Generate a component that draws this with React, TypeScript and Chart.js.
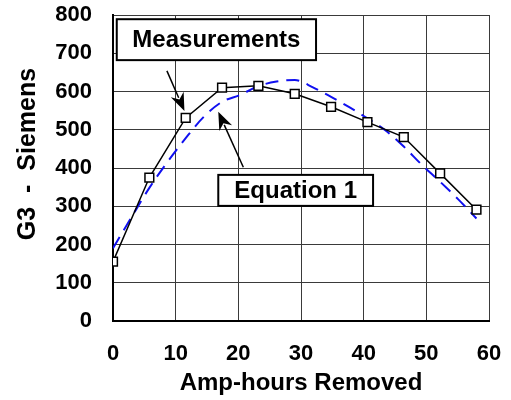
import React, { useEffect, useRef } from "react";
import { Chart, registerables } from "chart.js";

Chart.register(...registerables);

// Measured data (Amp-hours removed vs G3 in Siemens)
const measAh = [0, 5.8, 11.6, 17.4, 23.2, 29, 34.8, 40.6, 46.4, 52.2, 58];
const measG3 = [155, 375, 531, 610, 615, 594, 560, 520, 481, 386, 291];

// Equation 1 curve
const eqAh = [0, 2.9, 5.8, 8.7, 11.6, 14.5, 17.4, 20.3, 23.2, 26.1, 29, 31.9, 34.8, 37.7, 40.6, 43.5, 46.4, 49.3, 52.2, 55.1, 58];
const eqG3 = [190, 270, 348, 416, 478, 534, 573, 591, 614, 626, 630, 611, 586, 559, 530, 498, 456, 408, 364, 318, 268];

const xTitle = "Amp-hours Removed";
const yTitle = "G3  -  Siemens";
const measLabel = "Measurements";
const eqLabel = "Equation 1";

const FONT = "'Liberation Sans', Arial, sans-serif";

const annotationPlugin = {
  id: "annotations",
  afterDraw(chart: any) {
    const { ctx, scales } = chart;
    const xs = scales.x;
    const ys = scales.y;
    const px = (v: number) => xs.getPixelForValue(v);
    const py = (v: number) => ys.getPixelForValue(v);

    const arrow = (x1: number, y1: number, x2: number, y2: number) => {
      const ax = px(x1), ay = py(y1), bx = px(x2), by = py(y2);
      const ang = Math.atan2(by - ay, bx - ax);
      const len = 18, hw = 7;
      const c = Math.cos(ang), s = Math.sin(ang);
      ctx.save();
      ctx.strokeStyle = "#000";
      ctx.fillStyle = "#000";
      ctx.lineWidth = 1.5;
      ctx.beginPath();
      ctx.moveTo(ax, ay);
      ctx.lineTo(bx - c * len * 0.8, by - s * len * 0.8);
      ctx.stroke();
      ctx.beginPath();
      ctx.moveTo(bx, by);
      ctx.lineTo(bx - c * len + s * hw, by - s * len - c * hw);
      ctx.lineTo(bx - c * len * 0.7, by - s * len * 0.7);
      ctx.lineTo(bx - c * len - s * hw, by - s * len + c * hw);
      ctx.closePath();
      ctx.fill();
      ctx.restore();
    };

    const box = (text: string, x1: number, y1: number, x2: number, y2: number) => {
      const l = px(x1), r = px(x2), t = py(y1), b = py(y2);
      ctx.save();
      ctx.fillStyle = "#fff";
      ctx.fillRect(l, t, r - l, b - t);
      ctx.strokeStyle = "#000";
      ctx.lineWidth = 2;
      ctx.strokeRect(l, t, r - l, b - t);
      ctx.fillStyle = "#000";
      ctx.font = `bold 24px ${FONT}`;
      ctx.textAlign = "center";
      ctx.textBaseline = "middle";
      ctx.fillText(text, (l + r) / 2, (t + b) / 2 + 1);
      ctx.restore();
    };

    arrow(8.6, 654, 11.4, 549);
    arrow(20.8, 402, 16.8, 547);
    box(measLabel, 0.6, 789, 32.4, 682);
    box(eqLabel, 16.8, 382, 41.5, 301);

    // Y axis title
    ctx.save();
    ctx.translate(35, 154);
    ctx.rotate(-Math.PI / 2);
    ctx.fillStyle = "#000";
    ctx.font = `bold 25px ${FONT}`;
    ctx.textAlign = "center";
    ctx.textBaseline = "alphabetic";
    ctx.fillText(yTitle, 0, 0);
    ctx.restore();
  },
};

const resetPadding = (s: any) => {
  s.paddingTop = 0;
  s.paddingBottom = 0;
  s.paddingLeft = 0;
  s.paddingRight = 0;
};

export default function App() {
  const ref = useRef<HTMLCanvasElement | null>(null);

  useEffect(() => {
    document.body.style.margin = "0";
    if (!ref.current) return;
    const chart = new Chart(ref.current, {
      type: "line",
      data: {
        datasets: [
          {
            label: measLabel,
            data: measAh.map((x, i) => ({ x, y: measG3[i] })),
            borderColor: "#000",
            borderWidth: 1.5,
            pointStyle: "rect",
            pointRadius: 6.2,
            pointBorderWidth: 1.5,
            pointBorderColor: "#000",
            pointBackgroundColor: "#fff",
            tension: 0,
            order: 0,
          },
          {
            label: eqLabel,
            data: eqAh.map((x, i) => ({ x, y: eqG3[i] })),
            borderColor: "#1010f0",
            borderWidth: 2,
            borderDash: [13, 8],
            pointRadius: 0,
            cubicInterpolationMode: "monotone",
            order: 1,
          },
        ],
      },
      options: {
        responsive: false,
        animation: false,
        layout: { padding: { left: 0, top: 15, right: 22, bottom: 0 } },
        plugins: {
          legend: { display: false },
          tooltip: { enabled: false },
        },
        scales: {
          x: {
            type: "linear",
            min: 0,
            max: 60,
            ticks: {
              stepSize: 10,
              color: "#000",
              padding: 20,
              font: { family: FONT, size: 22, weight: "bold" },
            },
            grid: { color: "#3a3a3a", lineWidth: 1, drawTicks: false },
            border: { display: true, color: "#000", width: 2 },
            title: {
              display: true,
              text: xTitle,
              color: "#000",
              font: { family: FONT, size: 24, weight: "bold" },
              padding: { top: 0, bottom: 2 },
            },
            afterFit: (s: any) => {
              s.height = 79;
              resetPadding(s);
            },
          },
          y: {
            min: 0,
            max: 800,
            ticks: {
              stepSize: 100,
              color: "#000",
              padding: 21,
              font: { family: FONT, size: 22, weight: "bold" },
            },
            grid: { color: "#3a3a3a", lineWidth: 1, drawTicks: false },
            border: { display: true, color: "#000", width: 2 },
            afterFit: (s: any) => {
              s.width = 113;
              resetPadding(s);
            },
          },
        },
      },
      plugins: [annotationPlugin],
    } as any);
    return () => chart.destroy();
  }, []);

  return (
    <div style={{ width: 511, height: 400 }}>
      <canvas ref={ref} width={511} height={400} />
    </div>
  );
}
